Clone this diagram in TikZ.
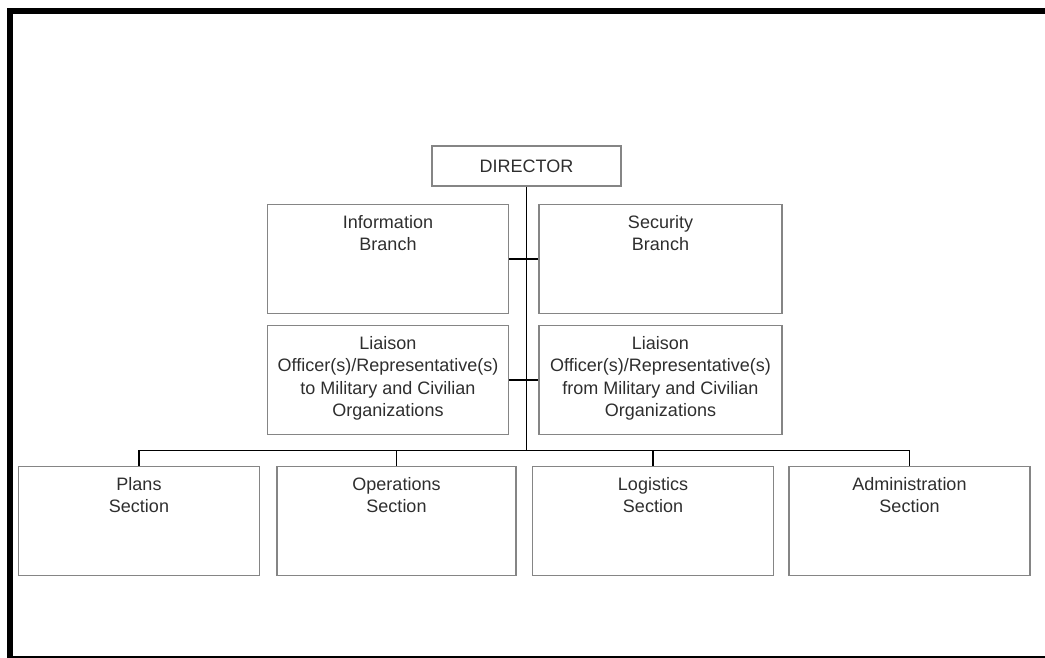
\documentclass[tikz,border=0pt]{standalone}
\usepackage{fontspec}
\setmainfont{Liberation Sans}
\definecolor{boxgray}{gray}{0.52}
\definecolor{textgray}{gray}{0.18}
\newcommand{\capstrut}{\rule{0pt}{14pt}}

\begin{document}
\begin{tikzpicture}[x=1pt, y=-1pt,
  every node/.style={font=\fontsize{18}{22.3}\selectfont, text=textgray},
  unit/.style={rectangle, draw=boxgray, line width=1.5pt, minimum width=241pt, minimum height=109pt, inner sep=0pt},
  caption/.style={anchor=north, align=center, inner sep=0pt, yshift=-10.5pt},
  link/.style={line width=1.6pt, black}]
  \useasboundingbox (0,0) rectangle (1045,658);
  % outer frame
  \draw[line width=6pt, miter limit=10] (1045,11.3) -- (9.6,11.3) -- (9.6,658);
  \draw[line width=2pt] (9.6,656.5) -- (1045,656.5);
  % boxes
  \node[unit, minimum width=189pt, minimum height=40pt] (director) at (526.5,166) {DIRECTOR};
  \node[unit] (info) at (388,259) {};
  \node[unit, minimum width=243pt] (security) at (660.5,259) {};
  \node[unit] (liaisonto) at (388,380) {};
  \node[unit, minimum width=243pt] (liaisonfrom) at (660.5,380) {};
  \node[unit] (plans) at (139,521) {};
  \node[unit, minimum width=239pt] (operations) at (396.5,521) {};
  \node[unit] (logistics) at (653,521) {};
  \node[unit] (admin) at (909.5,521) {};
  \coordinate (bus) at (526.5,450.5);
  % texts
  \node[caption] (info-text) at (info.north) {\capstrut Information\\Branch};
  \node[caption] (security-text) at (security.north) {\capstrut Security\\Branch};
  \node[caption] (liaisonto-text) at (liaisonto.north) {\capstrut Liaison\\Officer(s)/Representative(s)\\to Military and Civilian\\Organizations};
  \node[caption] (liaisonfrom-text) at (liaisonfrom.north) {\capstrut Liaison\\Officer(s)/Representative(s)\\from Military and Civilian\\Organizations};
  \node[caption] (plans-text) at (plans.north) {\capstrut Plans\\Section};
  \node[caption] (operations-text) at (operations.north) {\capstrut Operations\\Section};
  \node[caption] (logistics-text) at (logistics.north) {\capstrut Logistics\\Section};
  \node[caption] (admin-text) at (admin.north) {\capstrut Administration\\Section};
  % connectors
  \draw[link] (director.south) -- (bus);
  \draw[link] (info.east) -- (security.west);
  \draw[link] (liaisonto.east) -- (liaisonfrom.west);
  \draw[link] (plans.north) -- (plans.north |- bus) -- (admin.north |- bus) -- (admin.north);
  \draw[link] (operations.north) -- (operations.north |- bus);
  \draw[link] (logistics.north) -- (logistics.north |- bus);
\end{tikzpicture}
\end{document}
